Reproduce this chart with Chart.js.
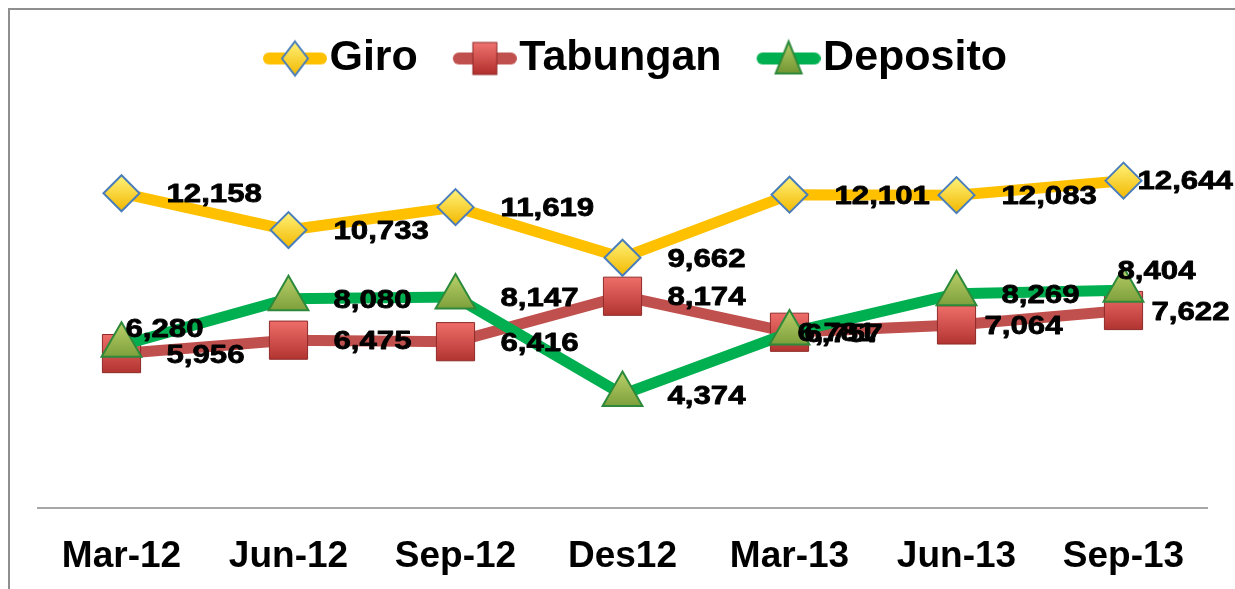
<!DOCTYPE html>
<html>
<head>
<meta charset="utf-8">
<script src="https://cdn.jsdelivr.net/npm/chart.js@4/dist/chart.umd.min.js"></script>
<style>
  html, body { margin: 0; padding: 0; background: #fff; }
  #wadah { position: relative; width: 1235px; height: 589px; }
  #wadah canvas { display: block; }
  #bingkai {
    position: absolute; left: 8px; top: 8px; right: 0; bottom: 0;
    border-top: 2px solid #8f8f8f; border-left: 2px solid #8f8f8f;
    pointer-events: none;
  }
</style>
</head>
<body>
<div id="wadah">
  <canvas id="grafik" width="1235" height="589"></canvas>
  <div id="bingkai"></div>
</div>
<script>
// Data
const kategori = ["Mar-12", "Jun-12", "Sep-12", "Des12", "Mar-13", "Jun-13", "Sep-13"];
const giro = [12158, 10733, 11619, 9662, 12101, 12083, 12644];
const tabungan = [5956, 6475, 6416, 8174, 6781, 7064, 7622];
const deposito = [6280, 8080, 8147, 4374, 6757, 8269, 8404];

// Geser label angka yang tidak di posisi standar (datasetIndex-dataIndex: [dx, dy])
const geserLabel = {
  "0-6": [14, 1],
  "1-4": [8, 2],
  "1-5": [28, 2],
  "1-6": [28, 2],
  "2-0": [4, -15],
  "2-4": [15, 2],
  "2-6": [-6, -18],
};

// Gradien untuk penanda titik
function isiGradien(atas, bawah, datar, r) {
  return (ctx) => {
    const chart = ctx.chart;
    if (ctx.dataIndex === undefined || !chart.scales.x || !chart.scales.y) return datar;
    const x = chart.scales.x.getPixelForValue(ctx.dataIndex);
    const y = chart.scales.y.getPixelForValue(ctx.raw);
    if (!isFinite(x) || !isFinite(y)) return datar;
    const g = chart.ctx.createLinearGradient(x, y - r, x, y + r);
    g.addColorStop(0, atas);
    g.addColorStop(1, bawah);
    return g;
  };
}

// Ikon legenda: garis tebal + penanda
function ikonLegenda(warnaGaris, gambarPenanda) {
  const c = document.createElement("canvas");
  c.width = 106;
  c.height = 44;
  const g = c.getContext("2d");
  g.strokeStyle = warnaGaris;
  g.lineWidth = 12;
  g.lineCap = "round";
  g.beginPath();
  g.moveTo(48, 22);
  g.lineTo(100, 22);
  g.stroke();
  gambarPenanda(g, 74, 22);
  return c;
}

const ikon = [
  ikonLegenda("#FFC000", (g, x, y) => {
    const gr = g.createLinearGradient(x, y - 17, x, y + 17);
    gr.addColorStop(0, "#FFF27A");
    gr.addColorStop(1, "#F2B800");
    g.fillStyle = gr;
    g.strokeStyle = "#4A7EBB";
    g.lineWidth = 2;
    g.beginPath();
    g.moveTo(x, y - 17); g.lineTo(x + 13, y); g.lineTo(x, y + 17); g.lineTo(x - 13, y);
    g.closePath(); g.fill(); g.stroke();
  }),
  ikonLegenda("#C0504D", (g, x, y) => {
    const gr = g.createLinearGradient(x, y - 16, x, y + 16);
    gr.addColorStop(0, "#F07470");
    gr.addColorStop(1, "#B02E2B");
    g.fillStyle = gr;
    g.strokeStyle = "#8E2B29";
    g.lineWidth = 1;
    g.fillRect(x - 12, y - 16, 24, 32);
    g.strokeRect(x - 12, y - 16, 24, 32);
  }),
  ikonLegenda("#00B050", (g, x, y) => {
    const gr = g.createLinearGradient(x, y - 16, x, y + 16);
    gr.addColorStop(0, "#B5CC66");
    gr.addColorStop(1, "#6E9430");
    g.fillStyle = gr;
    g.strokeStyle = "#2D8A3B";
    g.lineWidth = 2;
    g.beginPath();
    g.moveTo(x, y - 17); g.lineTo(x + 13, y + 15); g.lineTo(x - 13, y + 15);
    g.closePath(); g.fill(); g.stroke();
  }),
];

// Plugin label angka
const labelAngka = {
  id: "labelAngka",
  afterDatasetsDraw(chart) {
    const ctx = chart.ctx;
    ctx.save();
    ctx.fillStyle = "#000";
    ctx.strokeStyle = "#000";
    ctx.lineWidth = 0.8;
    ctx.lineJoin = "round";
    ctx.font = "bold 26px 'Liberation Sans', Arial, sans-serif";
    ctx.textAlign = "left";
    ctx.textBaseline = "middle";
    chart.data.datasets.forEach((ds, di) => {
      const meta = chart.getDatasetMeta(di);
      meta.data.forEach((pt, i) => {
        const [dx, dy] = geserLabel[di + "-" + i] || [45, 2];
        const teks = ds.data[i].toLocaleString("en-US");
        ctx.save();
        ctx.translate(pt.x + dx, pt.y + dy);
        ctx.scale(1.2, 1);
        ctx.fillText(teks, 0, 0);
        ctx.strokeText(teks, 0, 0);
        ctx.restore();
      });
    });
    ctx.restore();
  },
};

const grafik = new Chart(document.getElementById("grafik"), {
  type: "line",
  data: {
    labels: kategori,
    datasets: [
      {
        label: "Giro",
        data: giro,
        borderColor: "#FFC000",
        borderWidth: 11,
        pointStyle: "rectRot",
        pointRadius: 18,
        pointBackgroundColor: isiGradien("#FFF27A", "#F2B800", "#FFD21F", 18),
        pointBorderColor: "#4A7EBB",
        pointBorderWidth: 2,
        order: 0,
      },
      {
        label: "Tabungan",
        data: tabungan,
        borderColor: "#C0504D",
        borderWidth: 11,
        pointStyle: "rect",
        pointRadius: 27,
        pointBackgroundColor: isiGradien("#EE6D69", "#B23431", "#D2413E", 19),
        pointBorderColor: "#8E2B29",
        pointBorderWidth: 1,
        order: 2,
      },
      {
        label: "Deposito",
        data: deposito,
        borderColor: "#00B050",
        borderWidth: 11,
        pointStyle: "triangle",
        pointRadius: 23,
        pointBackgroundColor: isiGradien("#B5CC66", "#6E9430", "#8DB040", 20),
        pointBorderColor: "#2D8A3B",
        pointBorderWidth: 2,
        order: 1,
      },
    ],
  },
  options: {
    responsive: false,
    animation: false,
    layout: {
      padding: { top: 25, left: 38, right: 26, bottom: -9 },
    },
    plugins: {
      tooltip: { enabled: false },
      legend: {
        position: "top",
        labels: {
          usePointStyle: true,
          pointStyleWidth: 68,
          padding: 12,
          color: "#000",
          font: { family: "'Liberation Sans', Arial, sans-serif", size: 43, weight: "bold" },
          generateLabels(chart) {
            const dasar = Chart.defaults.plugins.legend.labels.generateLabels(chart);
            dasar.sort((a, b) => a.datasetIndex - b.datasetIndex);
            dasar.forEach((it) => {
              it.pointStyle = ikon[it.datasetIndex];
              it.lineWidth = 0;
            });
            return dasar;
          },
        },
      },
    },
    scales: {
      x: {
        offset: true,
        grid: { display: false },
        border: { display: true, color: "#A6A6A6", width: 2 },
        ticks: {
          color: "#000",
          padding: 19,
          font: { family: "'Liberation Sans', Arial, sans-serif", size: 37, weight: "bold" },
        },
      },
      y: {
        display: false,
        min: 0,
        max: 16150,
      },
    },
  },
  plugins: [labelAngka],
});
</script>
</body>
</html>
